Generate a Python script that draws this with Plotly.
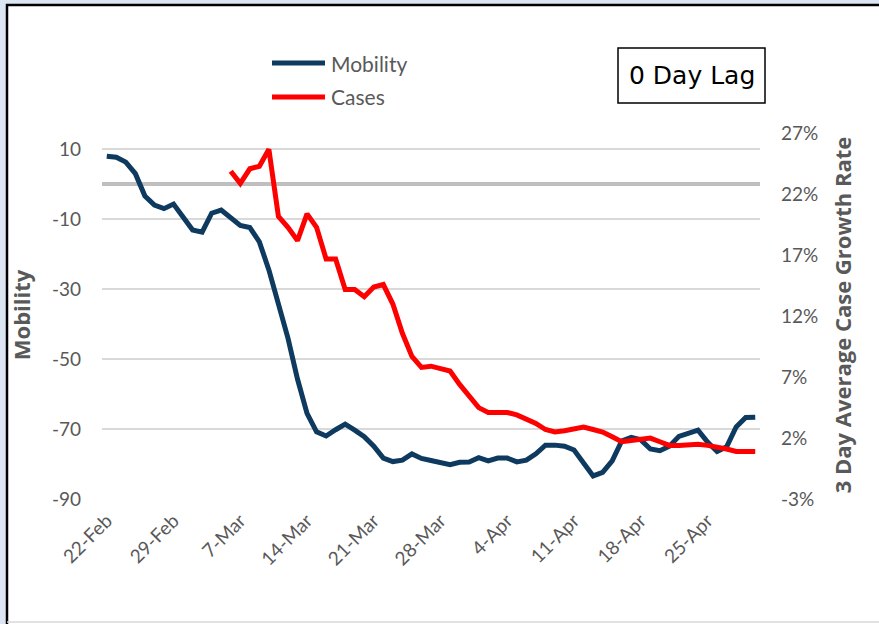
import pandas as pd
import plotly.graph_objects as go

# ---------------- data ----------------
start_date = "2020-02-22"
mobility = [8.0, 7.7, 6.3, 3.0, -3.4, -6.0, -7.0, -5.7, -9.4, -13.1,
            -13.7, -8.3, -7.4, -9.5, -11.8, -12.4, -16.5, -24.5, -34.6, -44.0,
            -55.7, -65.5, -70.8, -72.0, -70.2, -68.6, -70.3, -72.2, -74.9, -78.3,
            -79.3, -78.9, -77.1, -78.4, -79.0, -79.6, -80.2, -79.5, -79.4, -78.2,
            -79.1, -78.3, -78.3, -79.4, -78.9, -77.1, -74.6, -74.6, -74.9, -76.0,
            -79.7, -83.4, -82.4, -79.1, -73.4, -72.4, -73.1, -75.7, -76.2, -74.9,
            -72.1, -71.3, -70.3, -73.7, -76.4, -75.1, -69.4, -66.7, -66.6]
cases_offset = 13  # cases series begins 13 days after start
cases = [23.9, 22.9, 24.1, 24.3, 25.7, 20.2, 19.3, 18.2, 20.4, 19.3,
         16.7, 16.7, 14.2, 14.2, 13.6, 14.4, 14.6, 13.0, 10.6, 8.7,
         7.8, 7.9, 7.7, 7.5, 6.4, 5.5, 4.5, 4.1, 4.1, 4.1,
         3.9, 3.6, 3.2, 2.7, 2.5, 2.6, 2.8, 2.9, 2.7, 2.5,
         2.1, 1.7, 1.8, 1.9, 2.0, 1.7, 1.4, 1.4, 1.5, 1.5,
         1.4, 1.3, 1.1, 0.9, 0.9, 0.9]
tick_dates = ["2020-02-22", "2020-02-29", "2020-03-07", "2020-03-14", "2020-03-21",
              "2020-03-28", "2020-04-04", "2020-04-11", "2020-04-18", "2020-04-25"]
tick_labels = ["22-Feb", "29-Feb", "7-Mar", "14-Mar", "21-Mar",
               "28-Mar", "4-Apr", "11-Apr", "18-Apr", "25-Apr"]
left_ticks = [-90, -70, -50, -30, -10, 10]
left_tick_labels = ["-90", "-70", "-50", "-30", "-10", "10"]
right_ticks = [-3, 2, 7, 12, 17, 22, 27]
right_tick_labels = ["-3%", "2%", "7%", "12%", "17%", "22%", "27%"]

dates = pd.date_range(start_date, periods=len(mobility), freq="D")
case_dates = dates[cases_offset:cases_offset + len(cases)]

NAVY = "#0D3A5E"
RED = "#FF0000"
GRAY = "#595959"

W, H = 879, 624
L, R, T, B = 102, 119, 131, 125
PW, PH = W - L - R, H - T - B


def px(x):
    return (x - L) / PW


def py(y):
    return (H - B - y) / PH


fig = go.Figure()
fig.add_trace(go.Scatter(x=dates, y=mobility, mode="lines", name="Mobility",
                         line=dict(color=NAVY, width=5), yaxis="y", showlegend=False))
fig.add_trace(go.Scatter(x=case_dates, y=cases, mode="lines", name="Cases",
                         line=dict(color=RED, width=5), yaxis="y2", showlegend=False))

tick_font = dict(family="Lato", size=19, color=GRAY)
title_font = dict(family="Open Sans", size=22, color=GRAY, weight="bold")

fig.update_layout(
    width=W, height=H,
    margin=dict(l=L, r=R, t=T, b=B),
    paper_bgcolor="#DCE6F2",
    plot_bgcolor="white",
    showlegend=False,
    xaxis=dict(
        type="date",
        range=["2020-02-21 12:00", "2020-04-30 12:00"],
        tickvals=tick_dates, ticktext=tick_labels,
        tickangle=-45, tickfont=dict(family="Lato", size=19, color=GRAY),
        showgrid=False, zeroline=False, showline=False, ticks="",
        ticklabelstandoff=6,
    ),
    yaxis=dict(
        range=[-90, 15.2],
        tickvals=left_ticks, ticktext=left_tick_labels,
        tickfont=tick_font,
        showgrid=True, gridcolor="#D9D9D9", gridwidth=1.5,
        zeroline=True, zerolinecolor="#BFBFBF", zerolinewidth=3.5,
        showline=False, ticks="", ticklabelstandoff=20,
        title=dict(text="Mobility", font=title_font, standoff=15),
    ),
    yaxis2=dict(
        range=[-3, 27.2], overlaying="y", side="right",
        tickvals=right_ticks, ticktext=right_tick_labels,
        tickfont=tick_font,
        showgrid=False, zeroline=False, showline=False, ticks="",
        ticklabelstandoff=20,
        title=dict(text="3 Day Average Case Growth Rate", font=title_font, standoff=18),
    ),
)

shapes = [
    # chart frame (white area with black top/left border)
    dict(type="rect", xref="paper", yref="paper", layer="below",
         x0=px(7), x1=px(W + 10), y0=py(H + 10), y1=py(5),
         fillcolor="white", line=dict(color="black", width=2.5)),
    dict(type="line", xref="paper", yref="paper", layer="below",
         x0=px(7), x1=px(W), y0=py(622), y1=py(622),
         line=dict(color="#D9D9D9", width=1.5)),
    # legend samples
    dict(type="line", xref="paper", yref="paper",
         x0=px(272), x1=px(325), y0=py(63), y1=py(63),
         line=dict(color=NAVY, width=5)),
    dict(type="line", xref="paper", yref="paper",
         x0=px(272), x1=px(325), y0=py(97), y1=py(97),
         line=dict(color=RED, width=5)),
    # lag box
    dict(type="rect", xref="paper", yref="paper",
         x0=px(618), x1=px(765), y0=py(103), y1=py(48),
         line=dict(color="black", width=1.5), fillcolor="white"),
]

annotations = [
    dict(text="Mobility", xref="paper", yref="paper", x=px(329), y=py(63),
         xanchor="left", yanchor="middle", showarrow=False,
         font=dict(family="Lato", size=21, color=GRAY)),
    dict(text="Cases", xref="paper", yref="paper", x=px(329), y=py(97),
         xanchor="left", yanchor="middle", showarrow=False,
         font=dict(family="Lato", size=21, color=GRAY)),
    dict(text="0 Day Lag", xref="paper", yref="paper", x=px(691.5), y=py(75.5),
         xanchor="center", yanchor="middle", showarrow=False,
         font=dict(family="DejaVu Sans", size=25, color="black")),
]

fig.update_layout(shapes=shapes, annotations=annotations)

fig.write_html("out.html", config={"displayModeBar": False},
               post_script="document.body.style.margin='0px';document.body.style.overflow='hidden';")
